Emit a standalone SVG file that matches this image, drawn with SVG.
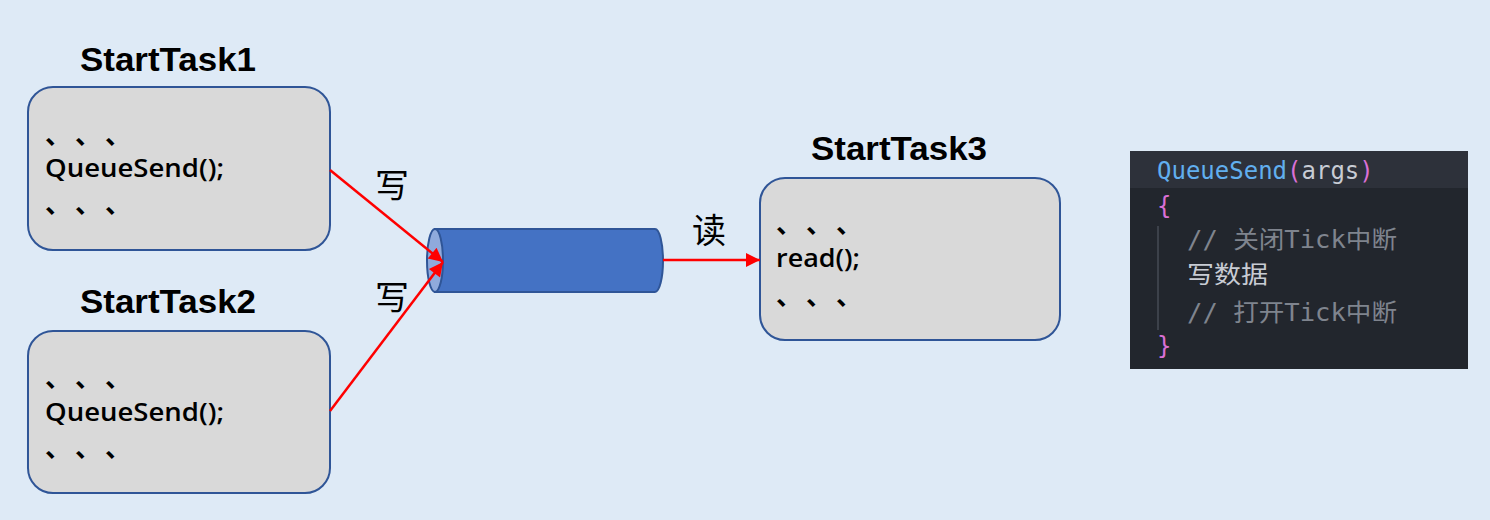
<svg xmlns="http://www.w3.org/2000/svg" width="1490" height="520" viewBox="0 0 1490 520">
<defs>
<style>
.bg{fill:#deeaf6}
.box{fill:#d9d9d9;stroke:#2f5597;stroke-width:2}
.title{font-family:"Liberation Sans","Noto Sans CJK SC",sans-serif;font-weight:bold;font-size:34px;fill:#000}
.code{font-family:"Open Sans","Liberation Sans","Noto Sans CJK SC",sans-serif;font-weight:600;font-size:26px;fill:#000}
.dots{font-family:"Noto Sans CJK SC",sans-serif;font-weight:bold;font-size:26px;fill:#000}
.lbl{font-family:"Noto Sans CJK SC",sans-serif;font-size:34px;fill:#000}
.conn{stroke:#ff0000;stroke-width:2.5;fill:none}
.mono{font-family:"DejaVu Sans Mono","Noto Sans CJK SC",monospace;font-size:24px}
</style>
<marker id="arr" viewBox="0 0 10 10" refX="10" refY="5" markerWidth="18" markerHeight="14" markerUnits="userSpaceOnUse" orient="auto">
<path d="M0,0 L10,5 L0,10 Z" fill="#ff0000"/>
</marker>
</defs>
<rect class="bg" x="0" y="0" width="1490" height="520"/>

<g id="task1">
<text class="title" x="80" y="71" textLength="176" lengthAdjust="spacingAndGlyphs">StartTask1</text>
<rect class="box" x="28" y="87" width="302" height="163" rx="25"/>
<text class="dots" x="45 75 105" y="144">、、、</text>
<text class="code" x="45" y="177" textLength="179" lengthAdjust="spacingAndGlyphs">QueueSend();</text>
<text class="dots" x="45 75 105" y="213">、、、</text>
</g>

<g id="task2">
<text class="title" x="80" y="313" textLength="176" lengthAdjust="spacingAndGlyphs">StartTask2</text>
<rect class="box" x="28" y="331" width="302" height="162" rx="25"/>
<text class="dots" x="45 75 105" y="387">、、、</text>
<text class="code" x="45" y="421" textLength="179" lengthAdjust="spacingAndGlyphs">QueueSend();</text>
<text class="dots" x="45 75 105" y="457">、、、</text>
</g>

<g id="task3">
<text class="title" x="811" y="160" textLength="176" lengthAdjust="spacingAndGlyphs">StartTask3</text>
<rect class="box" x="760" y="178" width="300" height="162" rx="25"/>
<text class="dots" x="776 806 836" y="233">、、、</text>
<text class="code" x="776" y="267" textLength="84" lengthAdjust="spacingAndGlyphs">read();</text>
<text class="dots" x="776 806 836" y="305">、、、</text>
</g>

<g id="queue">
<path d="M435,229 L655,229 A8,31.5 0 0 1 655,292 L435,292 Z" fill="#4472c4" stroke="#2f5597" stroke-width="2"/>
<ellipse cx="435" cy="260.5" rx="8" ry="31.5" fill="#8faadc" stroke="#2f5597" stroke-width="2"/>
</g>

<g id="connectors">
<line class="conn" x1="330" y1="170" x2="443" y2="262" marker-end="url(#arr)"/>
<line class="conn" x1="330" y1="411" x2="443" y2="262" marker-end="url(#arr)"/>
<line class="conn" x1="663" y1="260" x2="760" y2="260" marker-end="url(#arr)"/>
<text class="lbl" x="375" y="198">写</text>
<text class="lbl" x="375" y="310">写</text>
<text class="lbl" x="692" y="243">读</text>
</g>

<g id="codepanel">
<rect x="1130" y="151" width="338" height="218" fill="#22262d"/>
<rect x="1130" y="151" width="338" height="37" fill="#2d313a"/>
<line x1="1158" y1="226" x2="1158" y2="330" stroke="#3c414a" stroke-width="2"/>
<text class="mono" x="1157" y="179"><tspan fill="#61afef">QueueSend</tspan><tspan fill="#da70d6">(</tspan><tspan fill="#c8ccd4">args</tspan><tspan fill="#da70d6">)</tspan></text>
<text class="mono" x="1157" y="214" fill="#da70d6">{</text>
<text class="mono" x="1187" y="248" fill="#7f848e" textLength="210" lengthAdjust="spacingAndGlyphs">// 关闭Tick中断</text>
<text class="mono" x="1187" y="283" fill="#c8ccd4" textLength="81" lengthAdjust="spacingAndGlyphs">写数据</text>
<text class="mono" x="1187" y="321" fill="#7f848e" textLength="210" lengthAdjust="spacingAndGlyphs">// 打开Tick中断</text>
<text class="mono" x="1157" y="354" fill="#da70d6">}</text>
</g>
</svg>
